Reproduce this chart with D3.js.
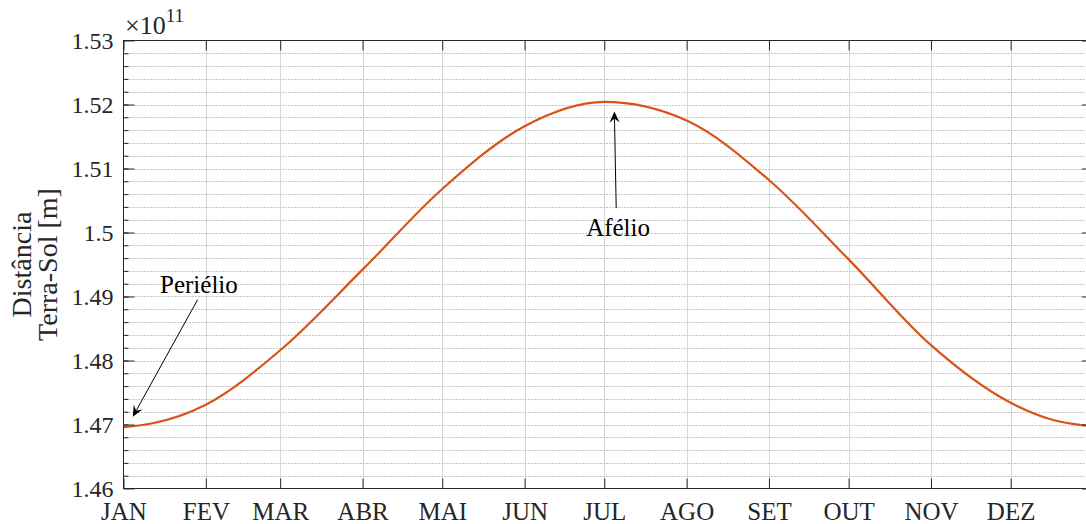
<!DOCTYPE html>
<html lang="pt">
<head>
<meta charset="UTF-8">
<title>Distância Terra-Sol</title>
<script src="https://d3js.org/d3.v7.min.js"></script>
<style>
  body { margin: 0; background: #fff; overflow: hidden; }
  svg { display: block; font-family: "Liberation Serif", "Times New Roman", serif; }
</style>
</head>
<body>
<svg width="1086" height="524"></svg>
<script>
// dia do ano (0 = 1 de janeiro) e distância, em unidades de 1e11 m
const days = [0, 11, 31, 59, 90, 120, 151, 181, 212, 243, 273, 304, 334, 350, 365];
const dist = [1.4696, 1.4702, 1.4731, 1.4816, 1.4942, 1.5068, 1.5166, 1.5204, 1.5175,
              1.5082, 1.4958, 1.4824, 1.4734, 1.4707, 1.4697];

const monthStarts = [0, 31, 59, 90, 120, 151, 181, 212, 243, 273, 304, 334];
const monthLabels = ["JAN", "FEV", "MAR", "ABR", "MAI", "JUN", "JUL", "AGO", "SET", "OUT", "NOV", "DEZ"];
const yTicks = [1.46, 1.47, 1.48, 1.49, 1.50, 1.51, 1.52, 1.53];

const svg = d3.select("svg");
const pLeft = 123.5, pRight = 1093, pTop = 40.5, pBottom = 488.5;
const ink = "#262626";

const x = d3.scaleLinear().domain([0, 365]).range([pLeft, pRight]);
const y = d3.scaleLinear().domain([1.46, 1.53]).range([pBottom, pTop]);

// minor steps of 0.002
const minorY = d3.range(1, 35).map(i => 1.46 + i * 0.002);

// grid
const grid = svg.append("g");
grid.selectAll("line.h")
    .data(minorY)
    .enter().append("line")
    .attr("class", "h")
    .attr("x1", pLeft).attr("x2", pRight)
    .attr("y1", d => Math.round(y(d)) + 0.5).attr("y2", d => Math.round(y(d)) + 0.5)
    .attr("stroke", "#8f8f8f")
    .attr("stroke-dasharray", "1,2");
grid.selectAll("line.v")
    .data(monthStarts.slice(1))
    .enter().append("line")
    .attr("class", "v")
    .attr("x1", d => Math.round(x(d)) + 0.5).attr("x2", d => Math.round(x(d)) + 0.5)
    .attr("y1", pTop).attr("y2", pBottom)
    .attr("stroke", "#b0b0b0")
    .attr("stroke-dasharray", "1,1");

// curve
const line = d3.line()
    .x((d, i) => x(days[i]))
    .y(d => y(d))
    .curve(d3.curveMonotoneX);

svg.append("path")
    .datum(dist)
    .attr("fill", "none")
    .attr("stroke", "#D95319")
    .attr("stroke-width", 2.2)
    .attr("d", line);

// axes
function styleAxis(g) {
    g.attr("font-size", 24).attr("font-family", null).attr("color", ink);
    g.select(".domain").remove();
}

svg.append("g")
    .attr("transform", `translate(${pLeft},0)`)
    .call(d3.axisLeft(y).tickValues(minorY).tickSize(-5).tickFormat(""))
    .call(styleAxis);

svg.append("g")
    .attr("transform", `translate(${pLeft},0)`)
    .call(d3.axisLeft(y).tickValues(yTicks).tickSize(-11).tickPadding(10)
        .tickFormat(d => String(+d.toFixed(2))))
    .call(styleAxis);

svg.append("g")
    .attr("transform", `translate(${pRight},0)`)
    .call(d3.axisRight(y).tickValues(yTicks).tickSize(-11).tickFormat(""))
    .call(styleAxis);

svg.append("g")
    .attr("transform", `translate(0,${pBottom})`)
    .call(d3.axisBottom(x).tickValues(monthStarts).tickSize(-10)
        .tickFormat((d, i) => monthLabels[i]))
    .call(styleAxis)
    .attr("font-size", 25)
    .selectAll("text").attr("y", 31).attr("dy", null);

svg.append("g")
    .attr("transform", `translate(0,${pTop})`)
    .call(d3.axisTop(x).tickValues(monthStarts).tickSize(-10).tickFormat(""))
    .call(styleAxis);

// box
svg.append("rect")
    .attr("x", pLeft).attr("y", pTop)
    .attr("width", pRight - pLeft).attr("height", pBottom - pTop)
    .attr("fill", "none")
    .attr("stroke", ink);

// exponent
const expo = svg.append("text")
    .attr("x", 125).attr("y", 34)
    .attr("font-size", 26)
    .attr("fill", ink)
    .text("×10");
expo.append("tspan")
    .attr("dy", -12)
    .attr("font-size", 19)
    .text("11");

// y label
[["Distância", 30.5], ["Terra-Sol [m]", 57]].forEach(([t, bx]) => {
    svg.append("text")
        .attr("transform", `translate(${bx},${(pTop + pBottom) / 2}) rotate(-90)`)
        .attr("text-anchor", "middle")
        .attr("font-size", 28)
        .attr("fill", ink)
        .text(t);
});

// annotations
function arrow(x0, y0, x1, y1) {
    const dx = x1 - x0, dy = y1 - y0, len = Math.hypot(dx, dy);
    const ux = dx / len, uy = dy / len, px = -uy, py = ux;
    const hl = 11, hw = 5, notch = 7;
    svg.append("line")
        .attr("x1", x0).attr("y1", y0)
        .attr("x2", x1 - ux * notch).attr("y2", y1 - uy * notch)
        .attr("stroke", "#000").attr("stroke-width", 1);
    const pts = [
        [x1, y1],
        [x1 - ux * hl + px * hw, y1 - uy * hl + py * hw],
        [x1 - ux * notch, y1 - uy * notch],
        [x1 - ux * hl - px * hw, y1 - uy * hl - py * hw]
    ];
    svg.append("path")
        .attr("d", "M" + pts.map(p => p.join(",")).join("L") + "Z")
        .attr("fill", "#000");
}

arrow(x(185.5), y(1.5038), x(184.8), y(1.5189));
svg.append("text")
    .attr("x", x(186.2)).attr("y", y(1.4995))
    .attr("text-anchor", "middle")
    .attr("font-size", 25)
    .attr("fill", "#000")
    .text("Afélio");

arrow(x(27.9), y(1.4895), x(3.5), y(1.4712));
svg.append("text")
    .attr("x", x(28.4)).attr("y", y(1.4905))
    .attr("text-anchor", "middle")
    .attr("font-size", 25)
    .attr("fill", "#000")
    .text("Periélio");
</script>
</body>
</html>
